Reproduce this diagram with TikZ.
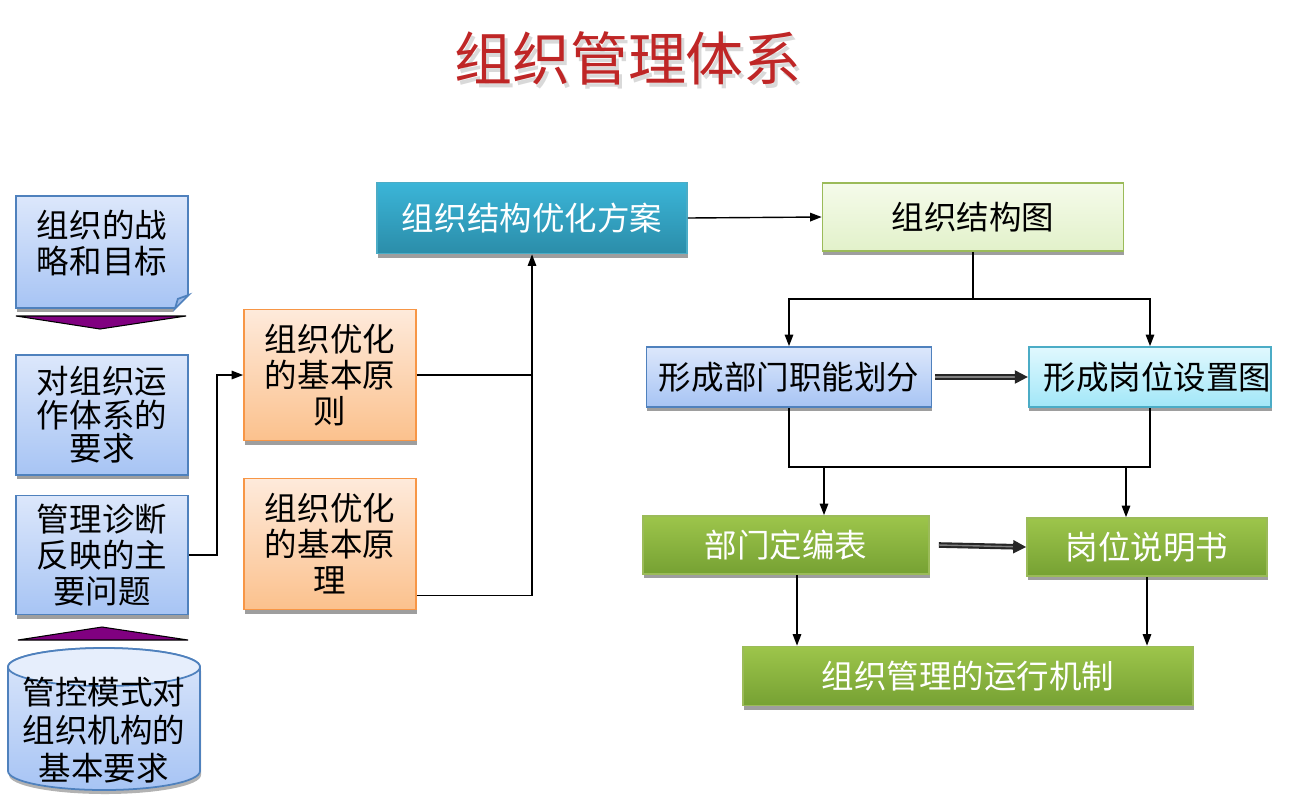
\documentclass[tikz,border=0pt]{standalone}
\usepackage{fontspec}
\usepackage{tikz}
\usetikzlibrary{arrows.meta,shadows}
\setmainfont{Noto Sans CJK SC}

\definecolor{bluetop}{HTML}{DCE7FB}
\definecolor{bluebot}{HTML}{A7C4F4}
\definecolor{blueline}{HTML}{4F81BD}
\definecolor{flapblue}{HTML}{9DB9E6}
\definecolor{orangetop}{HTML}{FEEADB}
\definecolor{orangebot}{HTML}{FBC18D}
\definecolor{orangeline}{HTML}{F79646}
\definecolor{tealtop}{HTML}{3BB5D8}
\definecolor{tealbot}{HTML}{2B8DA9}
\definecolor{tealline}{HTML}{4BACC6}
\definecolor{lgreentop}{HTML}{F5FBEA}
\definecolor{lgreenbot}{HTML}{E2F1CA}
\definecolor{greenline}{HTML}{9BBB59}
\definecolor{cyantop}{HTML}{E0F8FE}
\definecolor{cyanbot}{HTML}{A2E7F8}
\definecolor{greentop}{HTML}{9DC54B}
\definecolor{greenbot}{HTML}{76A133}
\definecolor{titlered}{HTML}{BF2626}
\definecolor{arrowpurple}{HTML}{800080}

\begin{document}
\begin{tikzpicture}[x=0.02cm, y=-0.02cm,
    every node/.style={font=\fontsize{18.5pt}{20.5pt}\selectfont, align=center, inner sep=0pt},
    box/.style={rectangle, line width=1pt, drop shadow={shadow xshift=0.3pt, shadow yshift=-2.5pt, fill=black!38, opacity=1}},
    bluebox/.style={box, draw=blueline, top color=bluetop, bottom color=bluebot},
    orangebox/.style={box, draw=orangeline, top color=orangetop, bottom color=orangebot},
    tealbox/.style={box, draw=tealline, top color=tealtop, bottom color=tealbot, text=white},
    lgreenbox/.style={box, draw=greenline, top color=lgreentop, bottom color=lgreenbot},
    cyanbox/.style={box, draw=tealline, top color=cyantop, bottom color=cyanbot},
    greenbox/.style={box, draw=greenline, top color=greentop, bottom color=greenbot, text=white},
    wire/.style={line width=0.8pt},
    conn/.style={wire, -{Triangle[length=2.3mm, width=1.7mm]}},
    dbl/.style={line width=1.2pt, draw=black!85, double=black!50, double distance=0.8pt, -{Triangle[length=2.6mm, width=2.6mm]}}]
  \useasboundingbox (0,0) rectangle (1297,799);

  % title
  \node[text=black!25, opacity=0.6, font=\fontsize{33pt}{36pt}\selectfont] at (631,62) {组织管理体系};
  \node[text=titlered, font=\fontsize{33pt}{36pt}\selectfont] (title) at (628,58) {组织管理体系};

  % left column
  \node[bluebox, minimum width=3.44cm, minimum height=2.24cm, text depth=0.4cm] (A1) at (102,252) {组织的战\\略和目标};
  \fill[white] ([shift={(-16,3)}]A1.south east) -- ([shift={(3,3)}]A1.south east) -- ([shift={(3,-16)}]A1.south east) -- cycle;
  \filldraw[fill=flapblue, draw=blueline, line width=1pt] ([shift={(-14,0)}]A1.south east) -- ([shift={(0,-14)}]A1.south east) -- ([shift={(-11,-10)}]A1.south east) -- cycle;
  \filldraw[fill=arrowpurple, draw=black, line width=0.6pt] (16,316) -- (186,316) -- (100,329) -- cycle;
  \node[bluebox, minimum width=3.44cm, minimum height=2.4cm, font=\fontsize{18.5pt}{19pt}\selectfont] (A2) at (102,415) {对组织运\\作体系的\\要求};
  \node[bluebox, minimum width=3.44cm, minimum height=2.38cm] (A3) at (102,555) {管理诊断\\反映的主\\要问题};
  \filldraw[fill=arrowpurple, draw=black, line width=0.6pt] (18,640) -- (188,640) -- (102,627) -- cycle;

  % cylinder
  \fill[black!30] (9,671) -- (9,775) arc[start angle=180, end angle=0, x radius=96, y radius=19] -- (201,671) -- cycle;
  \shade[top color=bluetop, bottom color=bluebot, draw=blueline, line width=1pt] (8,667) -- (8,771) arc[start angle=180, end angle=0, x radius=96, y radius=19] -- (200,667) arc[start angle=0, end angle=-180, x radius=96, y radius=19] -- cycle;
  \filldraw[fill=bluetop!70!white, draw=blueline, line width=1pt] (104,667) ellipse[x radius=96, y radius=19];
  \node[font=\fontsize{18.5pt}{21.5pt}\selectfont] (cyl) at (104,730) {管控模式对\\组织机构的\\基本要求};

  % principles
  \node[orangebox, minimum width=3.44cm, minimum height=2.62cm] (B1) at (330,375) {组织优化\\的基本原\\则};
  \node[orangebox, minimum width=3.44cm, minimum height=2.62cm] (B2) at (330,544) {组织优化\\的基本原\\理};

  % right part
  \node[tealbox, minimum width=6.2cm, minimum height=1.42cm] (C1) at (532,218) {组织结构优化方案};
  \node[lgreenbox, minimum width=6.02cm, minimum height=1.36cm] (D1) at (973,217) {组织结构图};
  \node[bluebox, minimum width=5.7cm, minimum height=1.2cm] (E1) at (789,377) {形成部门职能划分};
  \node[cyanbox, minimum width=4.8cm, minimum height=1.2cm] (E2) at (1150,377) {\hspace{0.3cm}形成岗位设置图};
  \node[greenbox, minimum width=5.72cm, minimum height=1.16cm] (F1) at (786,545) {部门定编表};
  \node[greenbox, minimum width=4.8cm, minimum height=1.16cm] (F2) at (1147,547) {岗位说明书};
  \node[greenbox, minimum width=9cm, minimum height=1.18cm] (G) at (968,676) {组织管理的运行机制};

  % connectors
  \draw[conn] (A3.east) -- ++(28,0) |- (B1.west);
  \draw[wire] (B1.east) -- (B1.east -| C1.south);
  \draw[conn] ([yshift=0.3cm]B2.south east) -| (C1.south);
  \draw[conn] (C1.east) -- (D1.west);
  \draw[wire] (D1.south) -- ++(0,47) coordinate (split);
  \draw[conn] (split) -| (E1.north);
  \draw[conn] (split) -| (E2.north);
  \draw[dbl] ([xshift=0.06cm]E1.east) -- (E2.west);
  \draw[wire] (E1.south) -- ++(0,59) coordinate (merge) -| (E2.south);
  \coordinate (m1) at (824,466);
  \coordinate (m2) at (1126,466);
  \draw[conn] (m1) -- (m1 |- F1.north);
  \draw[conn] (m2) -- (m2 |- F2.north);
  \draw[dbl] ([xshift=0.18cm]F1.east) -- (F2.west);
  \coordinate (f1out) at ([xshift=0.22cm]F1.south);
  \draw[conn] (f1out) -- (f1out |- G.north);
  \draw[conn] (F2.south) -- (F2.south |- G.north);
\end{tikzpicture}
\end{document}
